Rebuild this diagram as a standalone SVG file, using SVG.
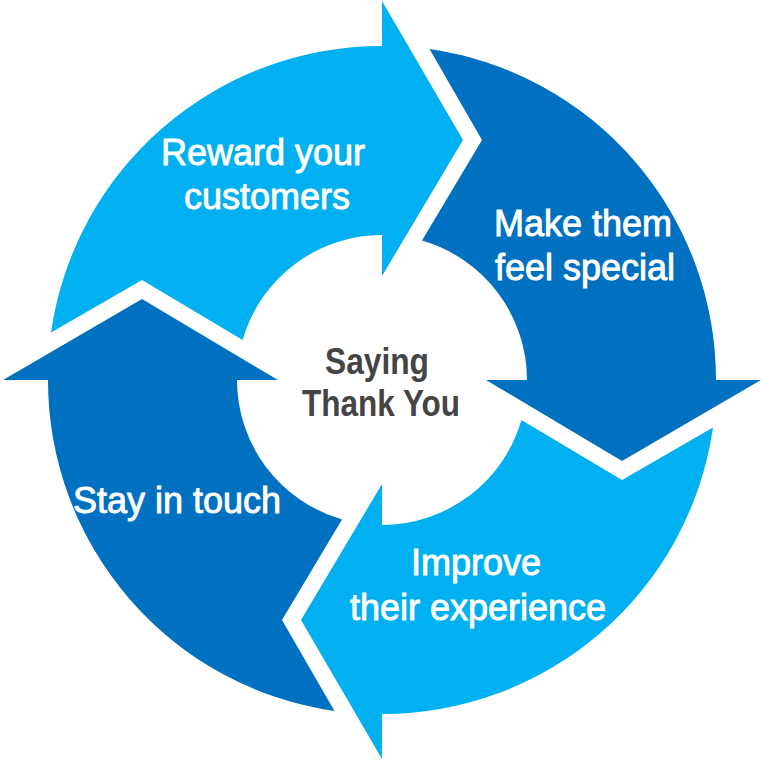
<svg xmlns="http://www.w3.org/2000/svg" xmlns:xlink="http://www.w3.org/1999/xlink" width="763" height="764" viewBox="0 0 763 764">
  <style>
    .light { fill: #00B0F0; }
    .dark { fill: #0070C0; }
    .lbl { font-family: "Liberation Sans", Arial, sans-serif; font-size: 36px; fill: #FFFFFF; stroke: #FFFFFF; stroke-width: 0.9px; text-anchor: middle; }
    .center { font-family: "Liberation Sans", Arial, sans-serif; font-size: 36px; font-weight: bold; fill: #444444; text-anchor: middle; }
  </style>
  <defs>
    <path id="seg" d="M -104 0 L -240 -81 L -379 0 L -334 0 A 334 334 0 0 0 -47.5 331 L -100 240 L -40 139.4 A 145 145 0 0 1 -145 0 Z"/>
  </defs>
  <rect x="0" y="0" width="763" height="764" fill="#FFFFFF"/>
  <g id="reward">
    <use xlink:href="#seg" href="#seg" class="light" transform="translate(382 380) rotate(90)"/>
    <text class="lbl" x="263" y="165">Reward your</text>
    <text class="lbl" x="267" y="209">customers</text>
  </g>
  <g id="special">
    <use xlink:href="#seg" href="#seg" class="dark" transform="translate(382 380) rotate(180)"/>
    <text class="lbl" x="583" y="236">Make them</text>
    <text class="lbl" x="585" y="280">feel special</text>
  </g>
  <g id="improve">
    <use xlink:href="#seg" href="#seg" class="light" transform="translate(382 380) rotate(270)"/>
    <text class="lbl" x="476" y="575">Improve</text>
    <text class="lbl" x="478" y="620">their experience</text>
  </g>
  <g id="touch">
    <use xlink:href="#seg" href="#seg" class="dark" transform="translate(382 380)"/>
    <text class="lbl" x="177" y="513">Stay in touch</text>
  </g>
  <g id="thankyou">
    <text class="center" x="377" y="374" textLength="104" lengthAdjust="spacingAndGlyphs">Saying</text>
    <text class="center" x="381" y="416" textLength="158" lengthAdjust="spacingAndGlyphs">Thank You</text>
  </g>
</svg>
